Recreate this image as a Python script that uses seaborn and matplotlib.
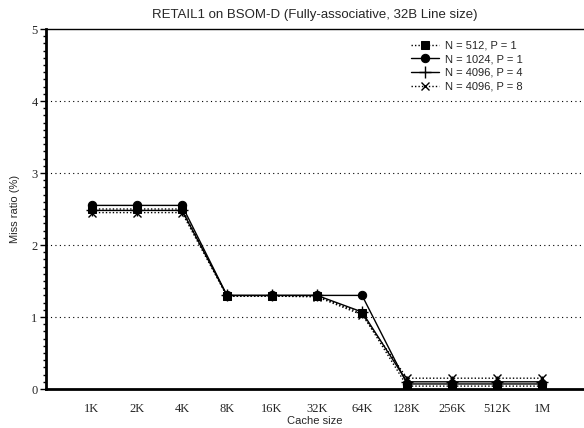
import matplotlib
matplotlib.use("Agg")
import matplotlib.pyplot as plt
import seaborn as sns
import pandas as pd
import numpy as np
from matplotlib.ticker import MultipleLocator

sns.set_theme(style="white")
plt.rcParams['font.family'] = ['Liberation Sans', 'DejaVu Sans']

cache_sizes = ["1K", "2K", "4K", "8K", "16K", "32K", "64K", "128K", "256K", "512K", "1M"]
n512_p1 = [2.50, 2.50, 2.50, 1.29, 1.29, 1.29, 1.05, 0.04, 0.04, 0.04, 0.04]
n1024_p1 = [2.55, 2.55, 2.55, 1.30, 1.30, 1.30, 1.30, 0.07, 0.07, 0.07, 0.07]
n4096_p4 = [2.48, 2.48, 2.48, 1.30, 1.30, 1.30, 1.07, 0.10, 0.10, 0.10, 0.10]
n4096_p8 = [2.45, 2.45, 2.45, 1.29, 1.29, 1.28, 1.03, 0.15, 0.15, 0.15, 0.15]

series = [
    ("N = 512, P = 1", n512_p1, dict(marker="s", linestyle=(0, (1, 1.5)), markersize=6)),
    ("N = 1024, P = 1", n1024_p1, dict(marker="o", linestyle="-", markersize=6)),
    ("N = 4096, P = 4", n4096_p4, dict(marker="+", linestyle="-", markersize=8, markeredgewidth=1)),
    ("N = 4096, P = 8", n4096_p8, dict(marker="x", linestyle=(0, (1, 1.5)), markersize=6, markeredgewidth=1)),
]

fig = plt.figure(figsize=(5.84, 4.28), dpi=100)
ax = fig.add_axes([46/584, 39/428, 538/584, 360/428])

x = np.arange(len(cache_sizes))
for label, vals, st in series:
    df = pd.DataFrame({"x": x, "y": vals})
    sns.lineplot(data=df, x="x", y="y", ax=ax, color="black", linewidth=1,
                 label=label, markeredgecolor="black", markerfacecolor="black", **st)

ax.set_xlim(-1.02, 10.93)
ax.set_ylim(0, 5)
ax.set_xticks(x)
ax.set_xticklabels(cache_sizes, fontfamily="Liberation Serif", fontsize=9)
ax.set_yticks([0, 1, 2, 3, 4, 5])
ax.set_yticklabels(["0", "1", "2", "3", "4", "5"], fontfamily="Liberation Serif", fontsize=9)
ax.yaxis.set_minor_locator(MultipleLocator(0.1))
ax.tick_params(axis="y", which="major", direction="out", length=4, width=1, color="black", left=True, pad=2)
ax.tick_params(axis="y", which="minor", direction="out", length=2, width=1, color="black", left=True)
ax.tick_params(axis="x", which="both", length=0, pad=10)

for yv in [1, 2, 3, 4]:
    ax.axhline(yv, color="black", linestyle=(0, (1, 3)), linewidth=0.8, zorder=0)

ax.spines["right"].set_visible(False)
ax.spines["top"].set_linewidth(1)
ax.spines["left"].set_linewidth(2)
ax.spines["bottom"].set_linewidth(2)
for s in ["top", "left", "bottom"]:
    ax.spines[s].set_color("black")

ax.set_xlabel("Cache size", fontsize=8, labelpad=1)
ax.set_ylabel("Miss ratio (%)", fontsize=8, labelpad=8)
ax.set_title("RETAIL1 on BSOM-D (Fully-associative, 32B Line size)", fontsize=9.5, pad=8)

leg = ax.legend(loc="upper right", bbox_to_anchor=(0.90, 0.989), frameon=False, fontsize=8,
                handlelength=2.5, labelspacing=0.32, handletextpad=0.5, borderaxespad=0.3)

fig.savefig("out.png", dpi=100)
